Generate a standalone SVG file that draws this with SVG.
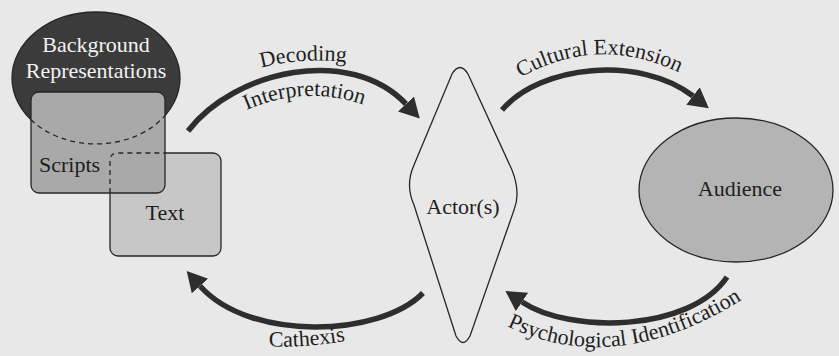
<svg xmlns="http://www.w3.org/2000/svg" width="839" height="356" viewBox="0 0 839 356">
  <style>
    .lbl { font-family: "Liberation Serif", "Times New Roman", serif; font-size: 22px; fill: #1e1e1e; }
    .light { fill: #f2f2f2; }
    .edge { fill: none; stroke: #2e2e2e; stroke-width: 5.5; }
    .outline { stroke: #262626; stroke-width: 1.3; }
    .dash { fill: none; stroke: #262626; stroke-width: 1.3; stroke-dasharray: 5 4; }
  </style>
  <defs>
    <marker id="head" markerUnits="userSpaceOnUse" markerWidth="24" markerHeight="26" refX="0" refY="12" orient="auto">
      <path d="M0,1 L20,12 L0,23 Z" fill="#2e2e2e"/>
    </marker>
    <!-- baselines for the curved captions -->
    <path id="p-decoding" d="M244,73 Q302,53 364,65"/>
    <path id="p-interp" d="M238,114 Q305,81 372,108"/>
    <path id="p-cultural" d="M510,84 Q597,28 690,78"/>
    <path id="p-cathexis" d="M258,346 Q305,349 356,339"/>
    <path id="p-psych" d="M488,316 Q612,390 760,288"/>
  </defs>

  <!-- paper -->
  <rect x="0" y="0" width="839" height="356" fill="#e8e8e8"/>

  <g id="node-background">
    <ellipse cx="96" cy="78" rx="84" ry="66" fill="#3b3b3b" class="outline"/>
    <text class="lbl light" x="96" y="52" text-anchor="middle">Background</text>
    <text class="lbl light" x="96" y="78" text-anchor="middle">Representations</text>
  </g>

  <g id="node-text">
    <rect x="110" y="153" width="111" height="103" rx="8" fill="#c7c7c7" class="outline"/>
    <text class="lbl" x="165" y="220" text-anchor="middle">Text</text>
  </g>

  <g id="node-scripts">
    <rect x="31" y="92" width="134" height="101" rx="8" fill="#a9a9a9" class="outline"/>
    <!-- hidden outlines of the shapes it overlaps -->
    <path class="dash" d="M31,119.8 A84,66 0 0 0 165,115.6"/>
    <path class="dash" d="M110,193 L110,161 Q110,153 118,153 L165,153"/>
    <text class="lbl" x="39" y="172">Scripts</text>
  </g>

  <g id="node-actor">
    <path d="M452,74 Q460,61 468,74 L512,170 Q521,193 514,210 L470,336 Q463,349 456,336 L414,205 Q405,185 414,165 Z" fill="#e8e8e8" class="outline"/>
    <text class="lbl" x="463" y="214" text-anchor="middle">Actor(s)</text>
  </g>

  <g id="node-audience">
    <ellipse cx="736" cy="190" rx="97" ry="72" fill="#b4b4b4" class="outline"/>
    <text class="lbl" x="740" y="196" text-anchor="middle">Audience</text>
  </g>

  <g id="connectors">
    <path class="edge" d="M188,131 C235,70 350,45 406,104" marker-end="url(#head)"/>
    <path class="edge" d="M502,110 C540,65 640,55 693,96" marker-end="url(#head)"/>
    <path class="edge" d="M727,277 C690,332 570,334 522,302" marker-end="url(#head)"/>
    <path class="edge" d="M423,293 C380,337 250,342 200,286" marker-end="url(#head)"/>

    <text class="lbl"><textPath href="#p-decoding" startOffset="50%" text-anchor="middle">Decoding</textPath></text>
    <text class="lbl"><textPath href="#p-interp" startOffset="50%" text-anchor="middle">Interpretation</textPath></text>
    <text class="lbl"><textPath href="#p-cultural" startOffset="50%" text-anchor="middle">Cultural Extension</textPath></text>
    <text class="lbl"><textPath href="#p-cathexis" startOffset="50%" text-anchor="middle">Cathexis</textPath></text>
    <text class="lbl"><textPath href="#p-psych" startOffset="50%" text-anchor="middle">Psychological Identification</textPath></text>
  </g>
</svg>
